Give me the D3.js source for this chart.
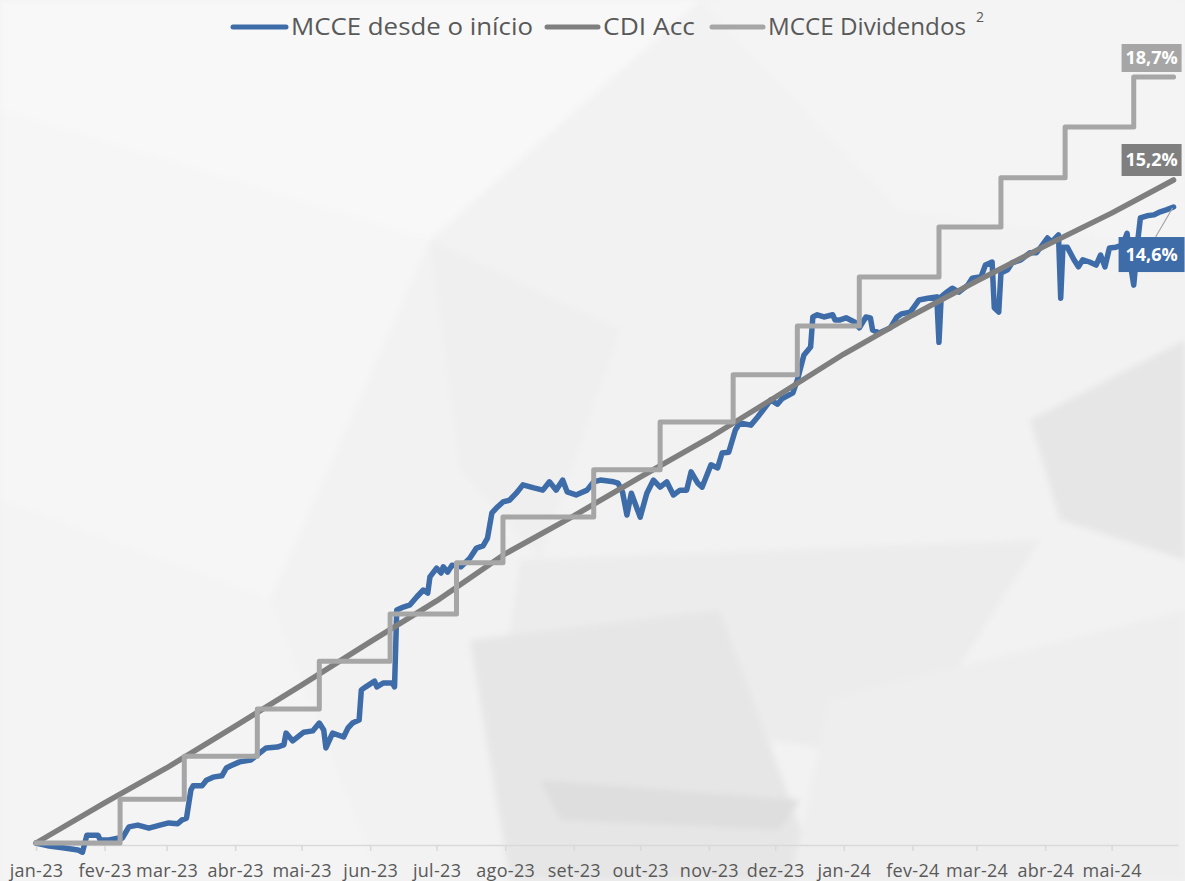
<!DOCTYPE html>
<html><head><meta charset="utf-8">
<script src="https://cdn.jsdelivr.net/npm/d3@7"></script>
<style>html,body{margin:0;padding:0;background:#f2f2f2;}svg{display:block;}</style>
</head><body>
<svg id="chart" width="1185" height="881"></svg>
<script>
// ---------- DATA ----------
const seriesNames = ["MCCE desde o início", "CDI Acc", "MCCE Dividendos"];
const tickDates = ["2023-01-01","2023-02-01","2023-03-01","2023-04-01","2023-05-01","2023-06-01","2023-07-01","2023-08-01","2023-09-01","2023-10-01","2023-11-01","2023-12-01","2024-01-01","2024-02-01","2024-03-01","2024-04-01","2024-05-01"];
const tickLabels = ["jan-23","fev-23","mar-23","abr-23","mai-23","jun-23","jul-23","ago-23","set-23","out-23","nov-23","dez-23","jan-24","fev-24","mar-24","abr-24","mai-24"];

const mcceDates = ["2023-01-01","2023-01-07","2023-01-13","2023-01-20","2023-01-22","2023-01-24","2023-01-29","2023-01-30","2023-02-03","2023-02-07","2023-02-09","2023-02-12","2023-02-16","2023-02-21","2023-02-26","2023-03-02","2023-03-06","2023-03-08","2023-03-10","2023-03-12","2023-03-13","2023-03-17","2023-03-19","2023-03-22","2023-03-26","2023-03-28","2023-03-30","2023-04-03","2023-04-08","2023-04-12","2023-04-15","2023-04-20","2023-04-23","2023-04-24","2023-04-27","2023-05-02","2023-05-06","2023-05-09","2023-05-11","2023-05-12","2023-05-15","2023-05-20","2023-05-22","2023-05-24","2023-05-27","2023-05-28","2023-05-30","2023-06-03","2023-06-04","2023-06-07","2023-06-11","2023-06-12","2023-06-13","2023-06-16","2023-06-19","2023-06-22","2023-06-25","2023-06-27","2023-06-28","2023-07-01","2023-07-03","2023-07-04","2023-07-06","2023-07-08","2023-07-12","2023-07-16","2023-07-19","2023-07-22","2023-07-24","2023-07-26","2023-07-28","2023-07-31","2023-08-03","2023-08-06","2023-08-09","2023-08-14","2023-08-18","2023-08-21","2023-08-24","2023-08-27","2023-08-29","2023-09-02","2023-09-07","2023-09-10","2023-09-13","2023-09-19","2023-09-21","2023-09-23","2023-09-25","2023-09-27","2023-10-01","2023-10-04","2023-10-07","2023-10-10","2023-10-13","2023-10-16","2023-10-19","2023-10-22","2023-10-24","2023-10-27","2023-10-29","2023-11-02","2023-11-05","2023-11-07","2023-11-10","2023-11-13","2023-11-15","2023-11-20","2023-11-23","2023-11-29","2023-12-02","2023-12-04","2023-12-09","2023-12-11","2023-12-14","2023-12-17","2023-12-18","2023-12-20","2023-12-23","2023-12-27","2023-12-28","2023-12-30","2024-01-02","2024-01-06","2024-01-08","2024-01-11","2024-01-13","2024-01-14","2024-01-17","2024-01-22","2024-01-25","2024-01-27","2024-01-31","2024-02-02","2024-02-04","2024-02-08","2024-02-12","2024-02-13","2024-02-14","2024-02-16","2024-02-19","2024-02-22","2024-02-26","2024-02-28","2024-03-03","2024-03-05","2024-03-08","2024-03-09","2024-03-11","2024-03-12","2024-03-15","2024-03-17","2024-03-21","2024-03-25","2024-03-28","2024-03-30","2024-04-02","2024-04-04","2024-04-07","2024-04-08","2024-04-09","2024-04-11","2024-04-14","2024-04-16","2024-04-18","2024-04-21","2024-04-24","2024-04-26","2024-04-28","2024-04-30","2024-05-03","2024-05-06","2024-05-08","2024-05-09","2024-05-11","2024-05-13","2024-05-14","2024-05-17","2024-05-20","2024-05-23","2024-05-26","2024-05-29"];
const mcceValues = [0.00,-0.07,-0.11,-0.16,-0.21,0.18,0.18,0.07,0.07,0.11,0.11,0.37,0.41,0.34,0.41,0.46,0.44,0.53,0.57,1.22,1.31,1.31,1.44,1.51,1.54,1.72,1.77,1.86,1.90,2.06,2.18,2.20,2.25,2.52,2.34,2.54,2.57,2.75,2.59,2.18,2.52,2.43,2.64,2.75,2.82,3.51,3.58,3.71,3.58,3.67,3.67,3.58,5.34,5.41,5.46,5.64,5.80,5.73,6.10,6.30,6.19,6.33,6.21,6.37,6.33,6.53,6.76,6.81,6.99,7.57,7.68,7.82,7.86,8.02,8.21,8.14,8.09,8.28,8.09,8.32,8.05,7.98,8.09,8.28,8.32,8.28,8.25,8.05,7.52,8.02,7.47,8.02,8.32,8.16,8.28,7.98,8.09,8.09,8.51,8.25,8.16,8.67,8.60,8.94,8.96,9.47,9.63,9.58,9.76,10.16,10.06,10.18,10.32,10.61,11.19,11.37,12.06,12.11,12.06,12.11,11.99,11.99,12.04,11.94,11.81,12.06,12.04,11.76,11.69,11.81,12.06,12.13,12.17,12.31,12.45,12.49,12.52,11.48,12.52,12.61,12.72,12.63,12.79,12.95,12.98,13.25,13.32,12.27,12.17,13.07,13.14,13.30,13.37,13.53,13.53,13.66,13.87,13.78,13.94,12.49,13.66,13.66,13.37,13.21,13.37,13.32,13.25,13.48,13.21,13.64,13.66,13.71,13.98,13.43,12.79,13.89,14.33,14.38,14.40,14.47,14.52,14.58];

const cdiDates = ["2023-01-01","2023-02-01","2023-03-01","2023-04-01","2023-05-01","2023-06-01","2023-07-01","2023-08-01","2023-09-01","2023-10-01","2023-11-01","2023-12-01","2024-01-01","2024-02-01","2024-03-01","2024-04-01","2024-05-01","2024-05-29"];
const cdiValues = [0.00,0.92,1.72,2.68,3.62,4.61,5.55,6.63,7.50,8.39,9.28,10.22,11.21,12.10,12.88,13.69,14.44,15.20];

const divDates = ["2023-01-01","2023-02-08","2023-03-09","2023-04-11","2023-05-09","2023-06-10","2023-07-10","2023-07-31","2023-09-10","2023-10-10","2023-11-12","2023-12-11","2024-01-08","2024-02-13","2024-03-12","2024-04-10","2024-05-11","2024-05-29"];
const divValues = [0.00,1.07,2.12,3.27,4.44,5.59,6.84,7.96,9.11,10.28,11.43,12.62,13.82,15.04,16.24,17.48,18.70,18.70];

const endLabels = ["14,6%","15,2%","18,7%"];
const colors = ["#3e6ca8","#7f7f7f","#a6a6a6"];

// ---------- SETUP ----------
const svg = d3.select("#chart");
const W = 1185, H = 881;
const parse = d3.utcParse("%Y-%m-%d");
const FONT = "'Open Sans', 'DejaVu Sans', sans-serif";

// background (soft geometric shading)
const defs = svg.append("defs");
defs.append("filter").attr("id", "soft").append("feGaussianBlur").attr("stdDeviation", 3);
const bg = svg.append("g");
bg.append("rect").attr("width", W).attr("height", H).attr("fill", "#f2f2f2");
const shades = bg.append("g").attr("filter", "url(#soft)");
const polys = [
  [[[0,0],[700,0],[430,240],[0,110]], "#f8f8f8"],
  [[[0,110],[430,240],[270,600],[0,500]], "#f6f6f6"],
  [[[700,0],[1185,0],[1185,250],[900,210]], "#f4f4f4"],
  [[[430,240],[620,330],[540,560],[460,470]], "#efefef"],
  [[[520,560],[1040,540],[900,760],[500,700]], "#ececec"],
  [[[470,640],[720,610],[820,881],[510,881]], "#e6e6e6"],
  [[[540,780],[800,800],[780,830],[560,820]], "#dedede"],
  [[[830,700],[1185,610],[1185,881],[790,881]], "#eeeeee"],
  [[[1030,420],[1185,340],[1185,560],[1060,520]], "#e6e6e6"],
  [[[0,500],[270,600],[380,881],[0,881]], "#f4f4f4"]
];
polys.forEach(p => {
  shades.append("polygon").attr("points", p[0].map(d => d.join(",")).join(" ")).attr("fill", p[1]);
});

// scales
const x = d3.scaleUtc().domain([parse("2023-01-01"), parse("2024-05-31")]).range([36, 1178]);
const y = d3.scaleLinear().domain([0, 15.2]).range([843, 180]);
const y2 = d3.scaleLinear().domain([0, 18.7]).range([843, 77]);

// axis
const axisY = 845;
const ax = svg.append("g").attr("transform", `translate(0,${axisY})`)
  .call(d3.axisBottom(x).tickValues(tickDates.map(parse)).tickFormat((d, i) => tickLabels[i]).tickSize(6).tickSizeOuter(0));
ax.select(".domain").attr("stroke", "#d9d9d9").attr("stroke-width", 1.5);
ax.selectAll(".tick line").attr("stroke", "#d9d9d9").attr("stroke-width", 1.5);
ax.selectAll(".tick text").attr("y", 32).attr("dy", 0).attr("fill", "#595959")
  .style("font-family", FONT).style("font-size", "18px").style("letter-spacing", "0.3px");

// lines
const mcce = mcceDates.map((d, i) => ({ d: parse(d), v: mcceValues[i] }));
const cdi = cdiDates.map((d, i) => ({ d: parse(d), v: cdiValues[i] }));
const div = divDates.map((d, i) => ({ d: parse(d), v: divValues[i] }));

const lineY = d3.line().x(p => x(p.d)).y(p => y(p.v));
const lineDiv = d3.line().x(p => x(p.d)).y(p => y2(p.v)).curve(d3.curveStepAfter);

svg.append("path").datum(mcce).attr("d", lineY).attr("fill", "none").attr("stroke", colors[0])
  .attr("stroke-width", 5.5).attr("stroke-linejoin", "round").attr("stroke-linecap", "round");
svg.append("path").datum(cdi).attr("d", lineY).attr("fill", "none").attr("stroke", colors[1])
  .attr("stroke-width", 5.5).attr("stroke-linejoin", "round").attr("stroke-linecap", "round");
svg.append("path").datum(div).attr("d", lineDiv).attr("fill", "none").attr("stroke", colors[2])
  .attr("stroke-width", 5).attr("stroke-linejoin", "round").attr("stroke-linecap", "round");

// end labels
function endLabel(px, py, w, h, text, fill) {
  svg.append("rect").attr("x", px).attr("y", py).attr("width", w).attr("height", h).attr("fill", fill);
  svg.append("text").attr("x", px + w / 2).attr("y", py + h / 2).attr("dy", "0.36em")
    .attr("text-anchor", "middle").attr("fill", "#ffffff").style("font-family", FONT)
    .style("font-weight", "700").style("font-size", "18px").text(text);
}
const lastM = mcce[mcce.length - 1], lastC = cdi[cdi.length - 1], lastD = div[div.length - 1];
svg.append("line").attr("x1", x(lastM.d) - 1).attr("y1", y(lastM.v) + 1).attr("x2", x(lastM.d) - 18).attr("y2", y(lastM.v) + 30)
  .attr("stroke", "#a6a6a6").attr("stroke-width", 1.2);
endLabel(x(lastM.d) - 55, y(lastM.v) + 30, 66, 35, endLabels[0], colors[0]);
endLabel(x(lastC.d) - 52, y(lastC.v) - 36, 60, 32, endLabels[1], colors[1]);
endLabel(x(lastD.d) - 52, y2(lastD.v) - 33, 60, 28, endLabels[2], colors[2]);

// legend
const leg = svg.append("g");
const legItems = [
  { x1: 233, x2: 286, tx: 291, tw: 242 },
  { x1: 547, x2: 598, tx: 603, tw: 92 },
  { x1: 712, x2: 763, tx: 768, tw: 198 }
];
legItems.forEach((it, i) => {
  leg.append("line").attr("x1", it.x1).attr("x2", it.x2).attr("y1", 27).attr("y2", 27)
    .attr("stroke", colors[i]).attr("stroke-width", 5).attr("stroke-linecap", "round");
  leg.append("text").attr("x", it.tx).attr("y", 35).attr("fill", "#595959")
    .attr("textLength", it.tw).attr("lengthAdjust", "spacingAndGlyphs")
    .style("font-family", FONT).style("font-size", "23px").text(seriesNames[i]);
});
leg.append("text").attr("x", 976).attr("y", 22).attr("fill", "#595959")
  .style("font-family", FONT).style("font-size", "14px").text("2");
</script>
</body></html>
